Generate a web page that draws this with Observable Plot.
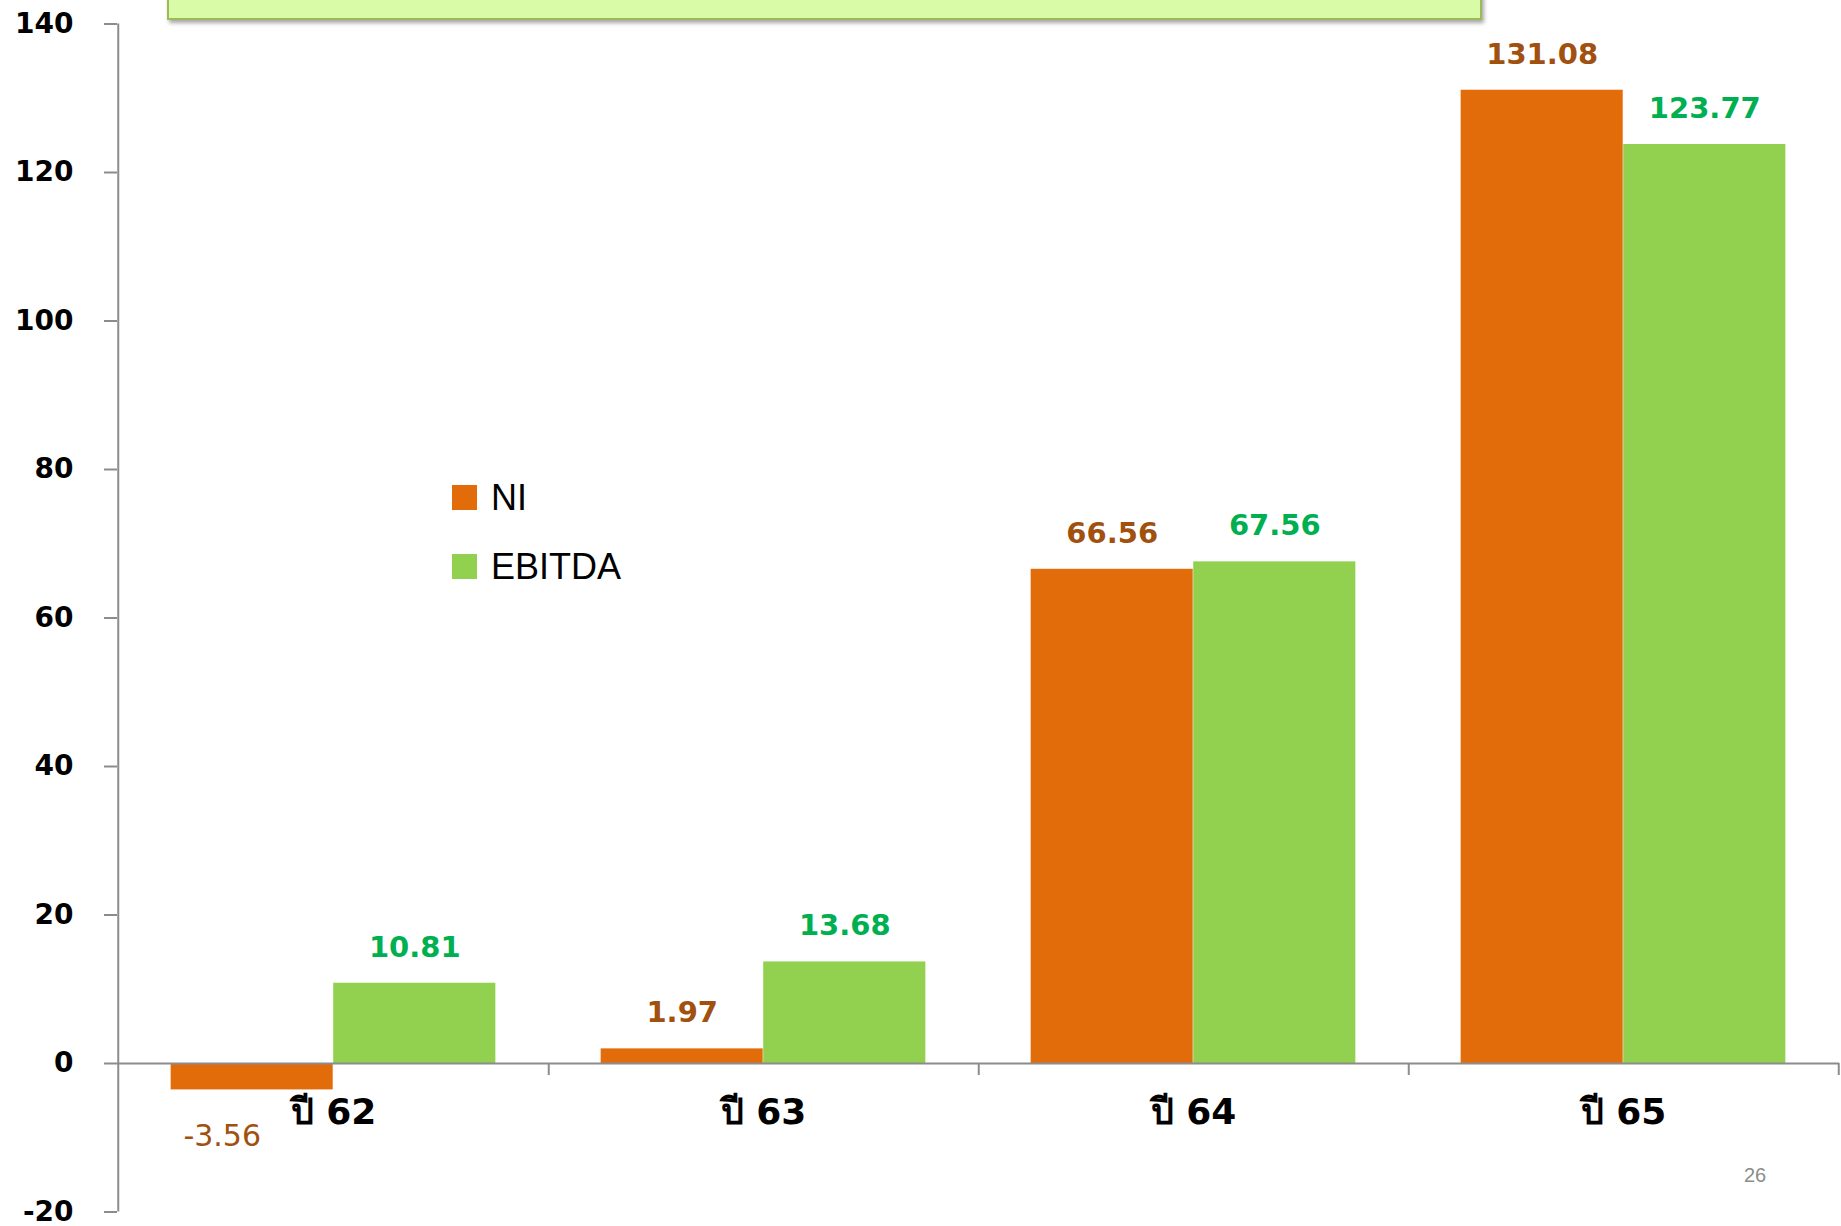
<!DOCTYPE html>
<html>
<head>
<meta charset="utf-8">
<script src="https://cdn.jsdelivr.net/npm/d3@7"></script>
<script src="https://cdn.jsdelivr.net/npm/@observablehq/plot@0.6"></script>
<style>
  html, body { margin: 0; padding: 0; background: #fff; }
  #wrap { position: relative; width: 1841px; height: 1226px; overflow: hidden; background: #fff; }
  #chart { position: absolute; left: 0; top: 0; }
  .banner { position: absolute; left: 167px; top: -40px; width: 1311px; height: 56px;
            background: #d9fba8; border: 2px solid #9bbb59; box-shadow: 2px 3px 4px rgba(0,0,0,0.35); }
  .legend { position: absolute; left: 452px; top: 463px; font-family: "Liberation Sans", Arial, sans-serif; font-size: 36px; color: #000; }
  .legend .item { display: flex; align-items: center; height: 69px; }
  .legend .sw { width: 25px; height: 25px; margin-right: 14px; }
  .page { position: absolute; left: 1744px; top: 1164px; font-family: "Liberation Sans", Arial, sans-serif; font-size: 20px; color: #8c8c8c; }
</style>
</head>
<body>
<div id="wrap">
  <div id="chart"></div>
  <div class="banner"></div>
  <div class="legend" id="legend"></div>
  <div class="page">26</div>
</div>
<script>
const categories = ["ปี 62", "ปี 63", "ปี 64", "ปี 65"];
const seriesNames = ["NI", "EBITDA"];
const niValues = [-3.56, 1.97, 66.56, 131.08];
const ebitdaValues = [10.81, 13.68, 67.56, 123.77];
const yTicks = [-20, 0, 20, 40, 60, 80, 100, 120, 140];
const seriesColors = ["#E36C0A", "#92D050"];
const labelColors = ["#A0500F", "#00B050"];

const ni = categories.map((c, i) => ({cat: c, value: niValues[i]}));
const eb = categories.map((c, i) => ({cat: c, value: ebitdaValues[i]}));

const W = 1841, H = 1226;
const ml = 117, mr = 2, mt = 23.5, mb = 14.5;
const bw = (W - ml - mr) / categories.length;      // band width
const barW = bw * 0.3776;                            // bar width
const outer = bw * 0.1223;                          // outer gap
const off = barW / 2;                                // bar center offset from band center
const font = "Tahoma, 'DejaVu Sans', sans-serif";
const axisGray = "#8c8c8c";
const pxPerUnit = (H - mt - mb) / 160;

const chart = Plot.plot({
  width: W, height: H,
  marginLeft: ml, marginRight: mr, marginTop: mt, marginBottom: mb,
  x: {type: "band", domain: categories, paddingInner: 0, paddingOuter: 0, axis: null},
  y: {domain: [-20, 140], axis: null},
  style: {fontFamily: font, background: "transparent", overflow: "visible"},
  marks: [
    Plot.barY(ni, {x: "cat", y1: 0, y2: "value", fill: seriesColors[0], insetLeft: outer, insetRight: bw - outer - barW}),
    Plot.barY(eb, {x: "cat", y1: 0, y2: "value", fill: seriesColors[1], insetLeft: outer + barW, insetRight: outer}),
    // y axis line
    Plot.ruleX([categories[0]], {x: d => d, y1: -20, y2: 140, dx: -bw / 2, stroke: axisGray, strokeWidth: 2}),
    // zero baseline
    Plot.ruleY([0], {stroke: axisGray, strokeWidth: 2}),
    // category boundary ticks
    Plot.ruleX(categories, {x: d => d, y1: 0, y2: -12 / pxPerUnit, dx: bw / 2, stroke: axisGray, strokeWidth: 2}),
    Plot.axisY({ticks: yTicks, label: null, tickSize: 13, tickPadding: 31, stroke: axisGray, strokeWidth: 2,
                fill: "#000", fontSize: 28, fontWeight: "bold", tickFormat: d => String(d)}),
    // category labels
    Plot.text(categories, {x: d => d, y: () => 0, dy: 49, text: d => d, fontSize: 36, fontWeight: "bold", fill: "#000", lineAnchor: "middle"}),
    // value labels
    Plot.text(ni.filter(d => d.value >= 0), {x: "cat", y: "value", dx: -off, dy: -36, text: d => d.value.toFixed(2),
      fill: labelColors[0], fontSize: 29, fontWeight: "bold", lineAnchor: "middle"}),
    Plot.text(ni.filter(d => d.value < 0), {x: "cat", y: "value", dx: -off - 30, dy: 46, text: d => d.value.toFixed(2),
      fill: labelColors[0], fontSize: 30, lineAnchor: "middle"}),
    Plot.text(eb, {x: "cat", y: "value", dx: off, dy: -36, text: d => d.value.toFixed(2),
      fill: labelColors[1], fontSize: 29, fontWeight: "bold", lineAnchor: "middle"})
  ]
});
document.getElementById("chart").appendChild(chart);

const legend = document.getElementById("legend");
seriesNames.forEach((name, i) => {
  const item = document.createElement("div");
  item.className = "item";
  const sw = document.createElement("div");
  sw.className = "sw";
  sw.style.background = seriesColors[i];
  const t = document.createElement("span");
  t.textContent = name;
  item.appendChild(sw);
  item.appendChild(t);
  legend.appendChild(item);
});
</script>
</body>
</html>
